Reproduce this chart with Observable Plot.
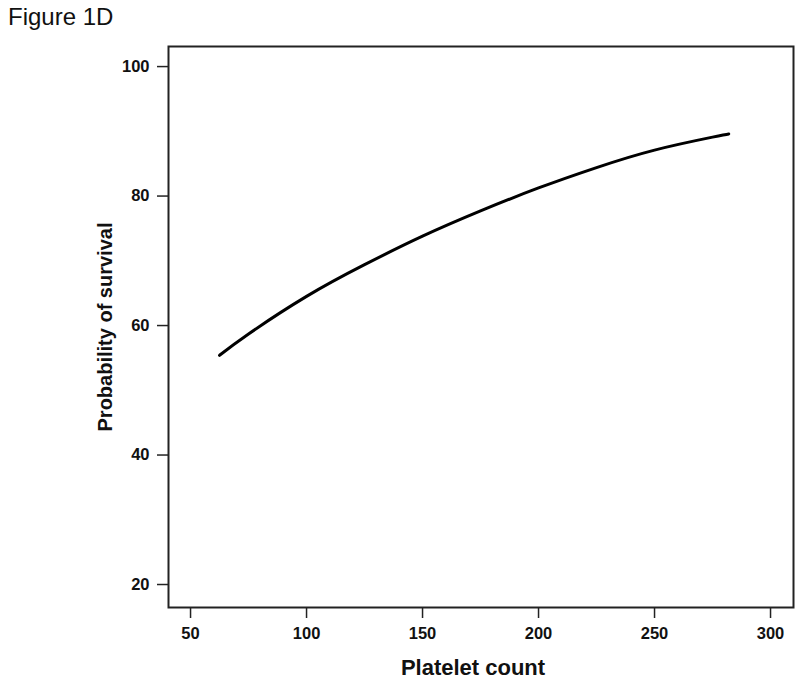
<!DOCTYPE html>
<html>
<head>
<meta charset="utf-8">
<script src="https://cdn.jsdelivr.net/npm/d3@7"></script>
<script src="https://cdn.jsdelivr.net/npm/@observablehq/plot@0.6"></script>
<style>
  html, body { margin: 0; padding: 0; background: #fff; }
  #wrap { position: relative; width: 800px; height: 682px; }
  #title { position: absolute; left: 8px; top: 3px; font-family: "Liberation Sans", Arial, sans-serif; font-size: 24px; color: #111; }
</style>
</head>
<body>
<div id="wrap"><div id="title">Figure 1D</div></div>
<script>
// Platelet count (x) and probability of survival (%)
const platelet = [62.5, 75, 100, 125, 150, 175, 200, 225, 250, 275, 282];
const survival = [55.4, 58.7, 64.5, 69.4, 73.8, 77.7, 81.25, 84.4, 87.1, 89.1, 89.6];
const xTicks = [50, 100, 150, 200, 250, 300];
const yTicks = [20, 40, 60, 80, 100];
const xLabel = "Platelet count";
const yLabel = "Probability of survival";

const data = platelet.map((p, i) => ({p, s: survival[i]}));

const chart = Plot.plot({
  width: 800,
  height: 682,
  marginLeft: 168,
  marginRight: 7,
  marginTop: 46,
  marginBottom: 75,
  style: {fontFamily: "'Liberation Sans', Arial, sans-serif", fontWeight: "bold", fontSize: "16.5px", color: "#111", background: "#fff"},
  x: {domain: [40.5, 309.9]},
  y: {domain: [16.45, 103.1]},
  marks: [
    Plot.axisX({ticks: xTicks, tickSize: 11, tickPadding: 9, label: null, stroke: "#222", strokeWidth: 1.5, fontSize: 16.5, fontWeight: "bold"}),
    Plot.axisY({ticks: yTicks, tickSize: 11, tickPadding: 8, label: null, stroke: "#222", strokeWidth: 1.5, fontSize: 16.5, fontWeight: "bold"}),
    Plot.frame({stroke: "#222", strokeWidth: 2}),
    Plot.line(data, {x: "p", y: "s", curve: "natural", stroke: "#000", strokeWidth: 3}),
    Plot.text([xLabel], {frameAnchor: "bottom", textAnchor: "middle", lineAnchor: "middle", dy: 60, dx: -8, text: d => d, fontSize: 22, fontWeight: "bold", fill: "#111"}),
    Plot.text([yLabel], {frameAnchor: "left", textAnchor: "middle", lineAnchor: "middle", dx: -63, rotate: -90, text: d => d, fontSize: 20, fontWeight: "bold", fill: "#111"})
  ]
});
document.getElementById("wrap").appendChild(chart);
</script>
</body>
</html>
